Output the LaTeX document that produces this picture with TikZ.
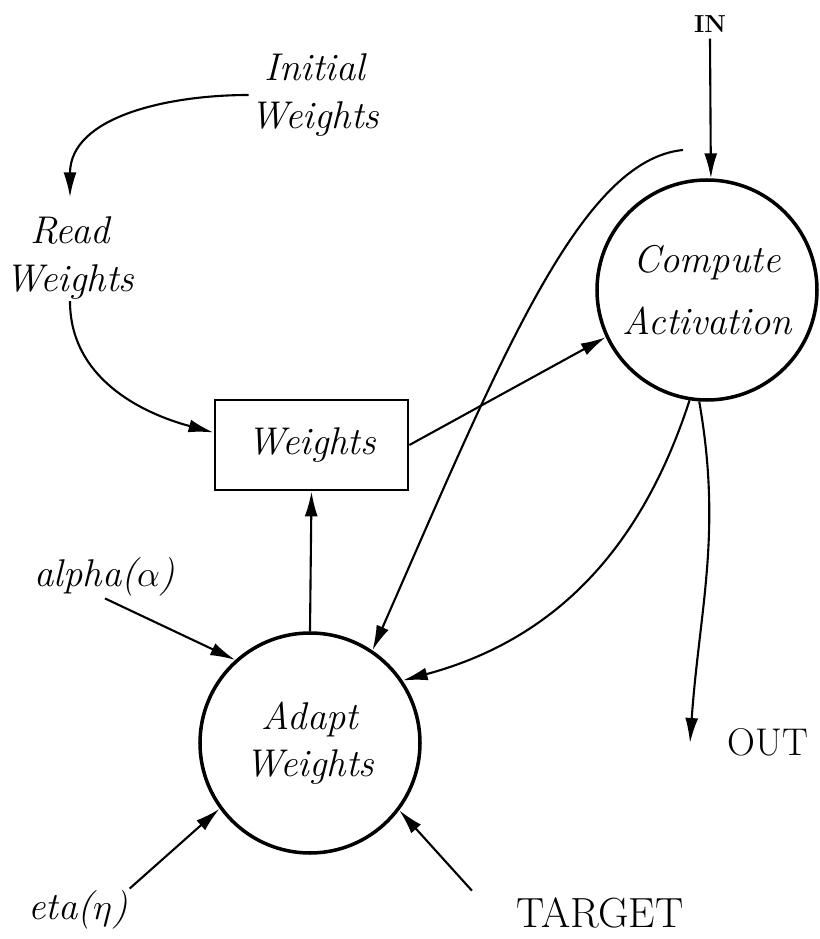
\documentclass[tikz,border=0pt]{standalone}
\usetikzlibrary{arrows.meta,positioning}

\begin{document}
\begin{tikzpicture}[x=1cm, y=1cm,
  hand/.style={font=\fontsize{22}{27}\selectfont\itshape, align=center, inner sep=1pt},
  caps/.style={font=\fontsize{22}{27}\selectfont, inner sep=1pt},
  proc/.style={draw, circle, line width=2pt, minimum size=4.4cm, align=center},
  flow/.style={line width=1.2pt, -{Latex[length=5mm,width=2.6mm]}}]
\useasboundingbox (0,0) rectangle (16.4,18.78);
%% processes and the weight store
\node[proc, hand] (comp) at (14.14,12.98) {Compute\\[8pt]Activation};
\node[proc, hand] (adapt) at (6.2,3.92) {Adapt\\Weights};
\node[draw, line width=1.6pt, minimum width=3.86cm, minimum height=1.8cm, hand]
  (wts) at (6.23,9.88) {Weights};
%% free labels
\node[hand] (init) at (6.3,16.88) {Initial\\Weights};
\node[hand] (read) at (1.4,13.62) {Read\\Weights};
\node[hand] (alpha) at (2.1,7.24) {alpha($\alpha$)};
\node[hand] (eta) at (1.56,0.58) {eta($\eta$)};
\node[caps, font=\fontsize{24}{28}\selectfont] (target) at (12.0,0.52) {TARGET};
\node[caps] (outlbl) at (15.36,3.94) {OUT};
\node[font=\fontsize{14}{16}\selectfont\bfseries] (inlbl) at (14.2,18.3) {IN};
\coordinate (outend) at (13.8,3.92);
\coordinate (fbstart) at (13.66,15.78);
%% connectors
\draw[flow] (init.west) to[out=180, in=90] ([yshift=0.35cm]read.north);
\draw[flow] (read.south) to[out=-90, in=165] ([yshift=0.25cm]wts.west);
\draw[flow] (wts.east) -- (comp.205);
\draw[flow] (inlbl.south) -- (comp.88);
\draw[flow] (comp.266) to[out=-80, in=86] (outend);
\draw[flow] (comp.261) to[out=-108, in=15] (adapt.34);
\draw[flow] (fbstart) .. controls (11.6,15.58) and (10.0,11.58) .. (adapt.56);
\draw[flow] (adapt.north) -- (wts.south);
\draw[flow] (alpha.south) -- (adapt.132);
\draw[flow] (eta.north east) -- (adapt.216);
\draw[flow] ([xshift=-0.85cm,yshift=0.1cm]target.north west) -- (adapt.323);
\end{tikzpicture}
\end{document}
